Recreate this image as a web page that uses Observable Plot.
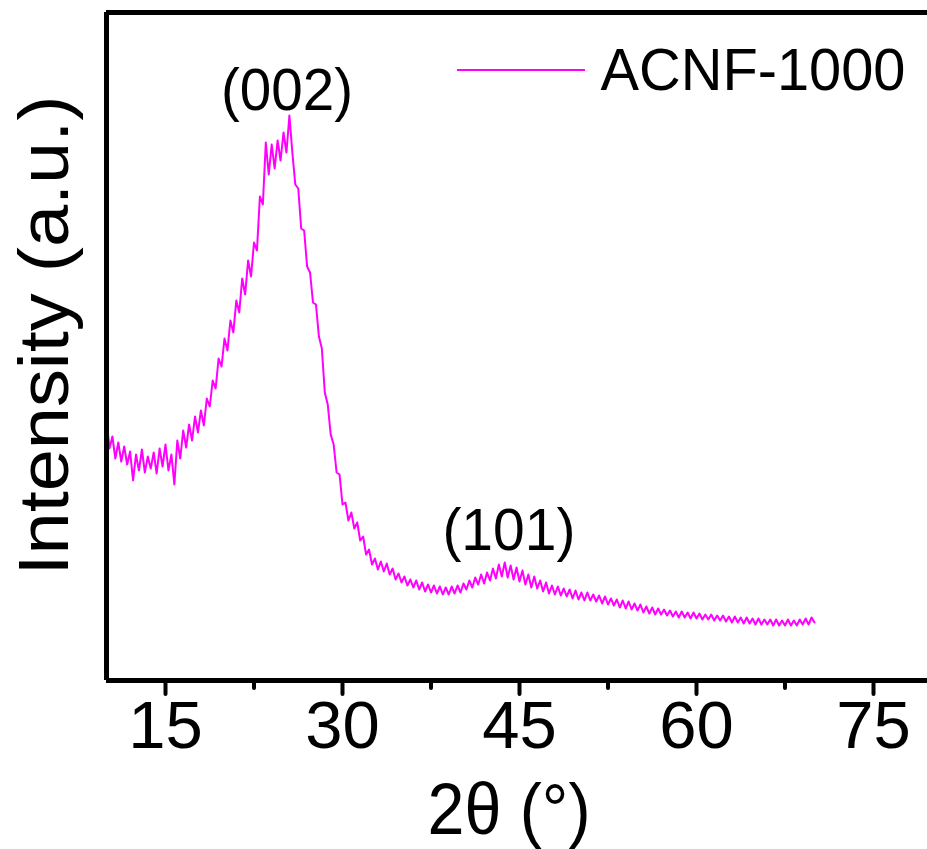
<!DOCTYPE html>
<html>
<head>
<meta charset="utf-8">
<script src="https://cdn.jsdelivr.net/npm/d3@7"></script>
<script src="https://cdn.jsdelivr.net/npm/@observablehq/plot@0.6"></script>
<style>
  html, body { margin: 0; padding: 0; background: #fff; overflow: hidden; }
  svg { font-family: "Liberation Sans", Arial, sans-serif; }
</style>
</head>
<body>
<div id="chart"></div>
<script>
// ---- Data ----
const seriesName = "ACNF-1000";
const thetaStart = 10;      // 2θ of first sample (°)
const thetaStep = 0.25;     // sampling step (°)
const intensity = [
  262, 232, 244, 222, 238, 219, 234, 216,   // 10 - 11.75
  229, 200, 226, 210, 231, 208, 224, 212,   // 12 - 13.75
  228, 207, 232, 214, 236, 210, 226, 196,   // 14 - 15.75
  240, 222, 250, 233, 256, 240, 264, 248,   // 16 - 17.75
  270, 255, 282, 274, 300, 292, 322, 314,   // 18 - 19.75
  342, 330, 360, 348, 380, 368, 402, 386,   // 20 - 21.75
  420, 404, 438, 430, 484, 476, 538, 506,   // 22 - 23.75
  536, 512, 540, 520, 548, 528, 565, 528,   // 24 - 25.75
  496, 492, 452, 450, 414, 408, 378, 376,   // 26 - 27.75
  344, 332, 288, 276, 246, 236, 208, 206,   // 28 - 29.75
  176, 178, 160, 168, 152, 158, 140, 144,   // 30 - 31.75
  126, 131, 116, 122, 111, 119, 109, 117,   // 32 - 33.75
  106, 112, 101, 107, 98, 104, 95, 101,     // 34 - 35.75
  93, 100, 91, 98, 89, 96, 88, 95,          // 36 - 37.75
  87, 94, 86, 93, 86, 94, 87, 95,           // 38 - 39.75
  88, 97, 91, 100, 93, 103, 96, 106,        // 40 - 41.75
  97, 108, 100, 112, 102, 116, 104, 118,    // 42 - 43.75
  103, 115, 101, 113, 99, 110, 96, 106,     // 44 - 45.75
  93, 104, 92, 100, 89, 98, 87, 95,         // 46 - 47.75
  86, 94, 85, 92, 84, 91, 82, 90,           // 48 - 49.75
  81, 88, 80, 88, 80, 86, 79, 85,           // 50 - 51.75
  77, 84, 76, 82, 75, 81, 73, 80,           // 52 - 53.75
  72, 79, 71, 77, 70, 76, 68, 74,           // 54 - 55.75
  67, 73, 66, 72, 66, 71, 65, 70,           // 56 - 57.75
  64, 69, 63, 69, 63, 68, 62, 68,           // 58 - 59.75
  62, 67, 61, 66, 61, 66, 60, 65,           // 60 - 61.75
  60, 65, 59, 64, 58, 64, 58, 63,           // 62 - 63.75
  57, 63, 57, 62, 56, 62, 56, 61,           // 64 - 65.75
  56, 61, 55, 61, 55, 60, 55, 61,           // 66 - 67.75
  55, 60, 55, 61, 56, 62, 56, 63,           // 68 - 69.75
  58                                        // 70
];
const majorTicks = [15, 30, 45, 60, 75];
const minorTicks = [22.5, 37.5, 52.5, 67.5];
const peakLabels = ["(002)", "(101)"];
const peakTheta = [25.3, 44.1];
const peakLabelLevel = [590, 150];
const xTitle = "2θ (°)";
const yTitle = "Intensity (a.u.)";

// ---- Build table ----
const xrd = intensity.map((v, i) => ({theta: thetaStart + i * thetaStep, I: v}));
const peaks = peakLabels.map((t, i) => ({label: t, theta: peakTheta[i], I: peakLabelLevel[i]}));

const W = 927, H = 849;
const xMax = 10 + (927 - 106) / 11.8;
const yMax = 668;
const lineColor = "#ff00ff";

const chart = Plot.plot({
  width: W,
  height: H,
  marginLeft: 106,
  marginRight: 0,
  marginTop: 12,
  marginBottom: 169,
  style: {fontFamily: "'Liberation Sans', Arial, sans-serif", background: "#fff", overflow: "visible"},
  x: {domain: [10, xMax]},
  y: {domain: [0, yMax]},
  marks: [
    Plot.line(xrd, {x: "theta", y: "I", stroke: lineColor, strokeWidth: 2}),
    Plot.text(peaks, {x: "theta", y: "I", text: "label", fontSize: 60, fill: "#000"}),
    Plot.axisX(minorTicks, {tickSize: 8, strokeWidth: 4, strokeLinecap: "round", text: null, label: null}),
    Plot.axisX(majorTicks, {tickSize: 14, tickPadding: 6, strokeWidth: 4, strokeLinecap: "round", fontSize: 67, fill: "#000", label: null}),
    Plot.axisY({ticks: [], label: null}),
    Plot.ruleY([0], {strokeWidth: 5, stroke: "#000"}),
    Plot.ruleY([yMax], {strokeWidth: 5, stroke: "#000"}),
    Plot.ruleX([10], {strokeWidth: 5, stroke: "#000"}),
    Plot.text([xTitle], {frameAnchor: "bottom", dx: -8, dy: 130, fontSize: 72, fill: "#000", textAnchor: "middle", lineAnchor: "middle"}),
    Plot.text([yTitle], {frameAnchor: "left", dx: -61, dy: -11, rotate: -90, fontSize: 70, fill: "#000", textAnchor: "middle", lineAnchor: "middle"}),
    Plot.text([seriesName], {frameAnchor: "top-left", dx: 600 - 106, dy: 58, fontSize: 60, fill: "#000", textAnchor: "start", lineAnchor: "middle"})
  ]
});

// legend swatch line
d3.select(chart).append("line")
  .attr("x1", 457).attr("x2", 585).attr("y1", 70).attr("y2", 70)
  .attr("stroke", lineColor).attr("stroke-width", 2);

// fit text widths to the reference's (slightly condensed) lettering
const textWidths = new Map([
  [seriesName, 305],
  ["(002)", 132],
  ["(101)", 133],
  [xTitle, 163],
  [yTitle, 480]
]);
d3.select(chart).selectAll("text").each(function () {
  const w = textWidths.get(this.textContent);
  if (w) {
    this.setAttribute("textLength", w);
    this.setAttribute("lengthAdjust", "spacingAndGlyphs");
  }
});

document.getElementById("chart").appendChild(chart);
</script>
</body>
</html>
